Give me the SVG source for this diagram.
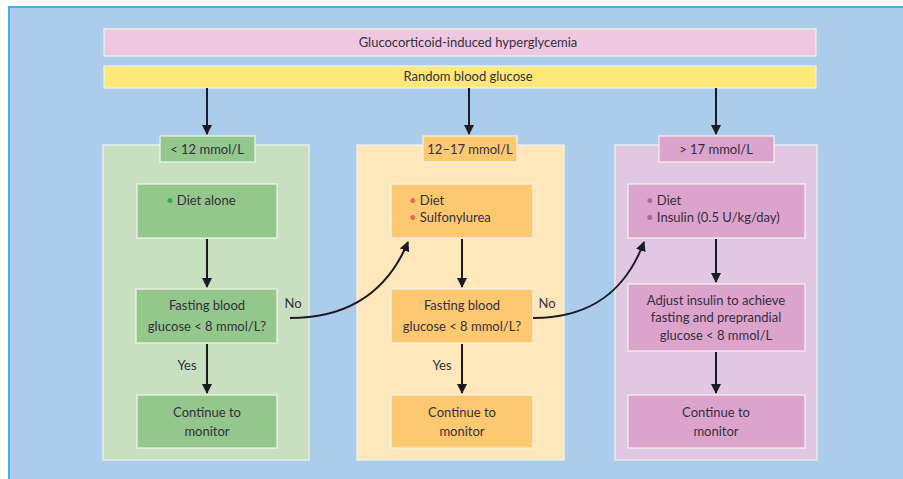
<svg xmlns="http://www.w3.org/2000/svg" width="903" height="479" viewBox="0 0 903 479">
<defs>
<marker id="ah" viewBox="0 0 10 10" refX="9" refY="5" markerWidth="5" markerHeight="5" orient="auto" markerUnits="strokeWidth">
<path d="M0,0 L10,5 L0,10 Z" fill="#1b1b24"/>
</marker>
<style>
text{font-family:Lato,"Open Sans","Liberation Sans",sans-serif;font-size:13px;fill:#352f40}
.c{text-anchor:middle}
.box{stroke:#f2f2f0;stroke-width:1.5;stroke-opacity:0.8}
.ln{stroke:#1b1b24;stroke-width:2;fill:none;marker-end:url(#ah)}
.g1{fill:#c9e0c0}.g2{fill:#93c78b}
.o1{fill:#fee8bb}.o2{fill:#fdc970}
.p1{fill:#e1c8e2}.p2{fill:#dca4cb}
</style>
</defs>
<rect x="0" y="0" width="903" height="479" fill="#ffffff"/>
<rect x="9" y="7" width="900" height="480" fill="#abcdeb" stroke="#3cb3e3" stroke-width="2"/>

<g id="title"><rect class="box" x="104" y="29" width="712" height="27" fill="#eec8e0"/><text class="c" x="468" y="47">Glucocorticoid-induced hyperglycemia</text></g>
<g id="random"><rect class="box" x="104" y="66" width="712" height="22" fill="#fee877"/><text class="c" x="468" y="81">Random blood glucose</text></g>

<g id="col-green">
<rect class="box g1" x="103" y="145" width="206" height="315"/>
<g id="lbl-green"><rect class="box g2" x="160" y="136" width="95" height="26"/><text class="c" x="207" y="154">&lt; 12 mmol/L</text></g>
<g id="diet-alone"><rect class="box g2" x="137" y="184" width="140" height="54"/><text x="166" y="205"><tspan fill="#2fae4e">•</tspan> Diet alone</text></g>
<g id="fbg-green"><rect class="box g2" x="136" y="289" width="141" height="54"/><text class="c" x="207" y="310">Fasting blood</text><text class="c" x="207" y="331">glucose &lt; 8 mmol/L?</text></g>
<g id="cont-green"><rect class="box g2" x="137" y="395" width="140" height="53"/><text class="c" x="207" y="417">Continue to</text><text class="c" x="207" y="436">monitor</text></g>
</g>

<g id="col-orange">
<rect class="box o1" x="357" y="145" width="207" height="315"/>
<g id="lbl-orange"><rect class="box o2" x="423" y="136" width="94" height="26"/><text class="c" x="470" y="154">12–17 mmol/L</text></g>
<g id="diet-sulf"><rect class="box o2" x="391" y="184" width="142" height="54"/><text x="409" y="205"><tspan fill="#e56a5e">•</tspan> Diet</text><text x="409" y="222"><tspan fill="#e56a5e">•</tspan> Sulfonylurea</text></g>
<g id="fbg-orange"><rect class="box o2" x="391" y="289" width="142" height="54"/><text class="c" x="462" y="310">Fasting blood</text><text class="c" x="462" y="331">glucose &lt; 8 mmol/L?</text></g>
<g id="cont-orange"><rect class="box o2" x="391" y="395" width="142" height="53"/><text class="c" x="462" y="417">Continue to</text><text class="c" x="462" y="436">monitor</text></g>
</g>

<g id="col-purple">
<rect class="box p1" x="615" y="145" width="202" height="315"/>
<g id="lbl-purple"><rect class="box p2" x="659" y="136" width="115" height="26"/><text class="c" x="716" y="154">&gt; 17 mmol/L</text></g>
<g id="diet-insulin"><rect class="box p2" x="628" y="184" width="177" height="54"/><text x="646" y="205"><tspan fill="#b065a8">•</tspan> Diet</text><text x="646" y="222"><tspan fill="#b065a8">•</tspan> Insulin (0.5 U/kg/day)</text></g>
<g id="adjust"><rect class="box p2" x="628" y="284" width="177" height="67"/><text class="c" x="716" y="305">Adjust insulin to achieve</text><text class="c" x="716" y="322">fasting and preprandial</text><text class="c" x="716" y="340">glucose &lt; 8 mmol/L</text></g>
<g id="cont-purple"><rect class="box p2" x="628" y="395" width="177" height="53"/><text class="c" x="716" y="417">Continue to</text><text class="c" x="716" y="436">monitor</text></g>
</g>

<g id="connectors">
<line class="ln" x1="207" y1="88" x2="207" y2="134"/>
<line class="ln" x1="469" y1="88" x2="469" y2="134"/>
<line class="ln" x1="716" y1="88" x2="716" y2="134"/>
<line class="ln" x1="207" y1="239" x2="207" y2="287"/>
<line class="ln" x1="207" y1="344" x2="207" y2="393"/>
<line class="ln" x1="462" y1="239" x2="462" y2="287"/>
<line class="ln" x1="462" y1="344" x2="462" y2="393"/>
<line class="ln" x1="716" y1="239" x2="716" y2="282"/>
<line class="ln" x1="716" y1="352" x2="716" y2="393"/>
<path class="ln" d="M290,318 C350,318 388,290 408,242"/>
<path class="ln" d="M533,318 C592,318 626,290 644,242"/>
<text class="c" x="293" y="308">No</text>
<text class="c" x="547" y="308">No</text>
<text class="c" x="187" y="370">Yes</text>
<text class="c" x="442" y="370">Yes</text>
</g>
</svg>
